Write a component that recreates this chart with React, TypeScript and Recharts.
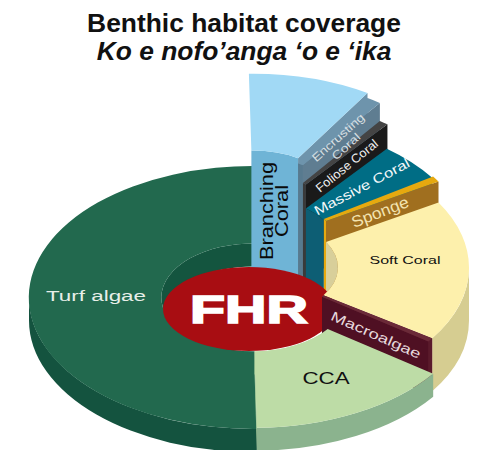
import * as React from "react";
import { Pie, PieChart } from "recharts";

const FONT = '"Liberation Sans", Arial, sans-serif';

// Percent of the disc, clockwise from Turf algae.
const HABITATS = ["Turf algae", "Branching Coral", "Encrusting Coral", "Foliose Coral", "Massive Coral", "Sponge", "Soft Coral", "Macroalgae", "CCA"];
const COVERAGE = [50, 9.2, 1.1, 0.7, 5, 0.75, 18, 0.5, 14.8];
const HUB = ["FHR"];

const data = HABITATS.map((name, i) => ({ name, value: COVERAGE[i] }));
const hubData = HUB.map((name) => ({ name, value: 1 }));

// Look of the fake 3D: k flattens the disc, DEPTH is the rim below the base plane.
const k = 0.587;
const DEPTH = 23;
const W = 484;
const H = 450;

type Look = { lift: number; rIn: number; rOut: number; top: string; end: string; outer: string; inner: string; bleed?: number };
const LOOK: Record<string, Look> = {
  // bleed: turf runs on under the branching wedge so no white seam shows
  "Turf algae": { lift: 0, rIn: 92, rOut: 224, top: "#22694E", end: "#22694E", outer: "#14533F", inner: "#14553F", bleed: 3 },
  "Branching Coral": { lift: 97, rIn: 85, rOut: 216, top: "#A1D9F5", end: "#6E94AC", outer: "#6FB4D6", inner: "#6FB4D6" },
  "Encrusting Coral": { lift: 92, rIn: 85, rOut: 216, top: "#6E94AC", end: "#5F7D91", outer: "#5F7D91", inner: "#587A8F" },
  "Foliose Coral": { lift: 74, rIn: 85, rOut: 216, top: "#444444", end: "#1A1A1A", outer: "#1A1A1A", inner: "#3A3A3A" },
  "Massive Coral": { lift: 50, rIn: 85, rOut: 215, top: "#006D85", end: "#0D5E74", outer: "#0D5E74", inner: "#0D5E74" },
  Sponge: { lift: 51, rIn: 85, rOut: 216, top: "#E6A90F", end: "#A06F1F", outer: "#A06F1F", inner: "#E6A90F" },
  "Soft Coral": { lift: 30, rIn: 85, rOut: 216, top: "#FDF0AC", end: "#5A1A2B", outer: "#D6CD91", inner: "#D8CF9A" },
  Macroalgae: { lift: 30, rIn: 85, rOut: 216, top: "#6B2A38", end: "#4F1023", outer: "#5A1A2B", inner: "#4F1023" },
  CCA: { lift: 0, rIn: 92, rOut: 222, top: "#BDDCA6", end: "#BDDCA6", outer: "#8BB38E", inner: "#BDDCA6" },
};
const FRONT = ["Soft Coral", "Macroalgae", "CCA"];

type Tag = { lines: string[]; x: number; y: number; rot: number; size: number; fill: string; widths: number[]; gap?: number };
const TAGS: Record<string, Tag> = {
  "Turf algae": { lines: ["Turf algae"], x: 96, y: 295, rot: 0, size: 15.5, fill: "#E8EFE9", widths: [100] },
  "Branching Coral": { lines: ["Branching", "Coral"], x: 274.5, y: 211, rot: -90, size: 18, fill: "#0A0A0A", widths: [98, 52], gap: 15 },
  "Encrusting Coral": { lines: ["Encrusting", "Coral"], x: 342, y: 142, rot: -42, size: 11.5, fill: "#D5DDE0", widths: [66, 34], gap: 12 },
  "Foliose Coral": { lines: ["Foliose Coral"], x: 347, y: 166, rot: -39, size: 12.5, fill: "#F0F0F0", widths: [76] },
  "Massive Coral": { lines: ["Massive Coral"], x: 362, y: 187, rot: -28, size: 13.5, fill: "#F4F8F9", widths: [106] },
  Sponge: { lines: ["Sponge"], x: 380, y: 212, rot: -21, size: 16, fill: "#F3E3B0", widths: [60] },
  "Soft Coral": { lines: ["Soft Coral"], x: 405, y: 260, rot: 0, size: 11.5, fill: "#111111", widths: [71] },
  Macroalgae: { lines: ["Macroalgae"], x: 376, y: 335, rot: 24, size: 13.5, fill: "#E6D8DC", widths: [97] },
  CCA: { lines: ["CCA"], x: 326, y: 378, rot: 0, size: 16, fill: "#111111", widths: [47] },
};

/** Recharts hands us polar angles; turn them into degrees clockwise from the top. */
function span(p: any) {
  let a0 = 90 - p.startAngle;
  let a1 = 90 - p.endAngle;
  if (a0 < -90) {
    a0 += 360;
    a1 += 360;
  }
  return [a0, a1 + (LOOK[p.name]?.bleed ?? 0)];
}

function pt(p: any, a: number, r: number, lift: number) {
  const rad = (a * Math.PI) / 180;
  return `${(p.cx + r * Math.sin(rad)).toFixed(2)} ${(p.cy - k * r * Math.cos(rad) - lift).toFixed(2)}`;
}

function arc(p: any, from: number, to: number, r: number, lift: number) {
  const big = Math.abs(to - from) > 180 ? 1 : 0;
  const sweep = to > from ? 1 : 0;
  return `A ${r} ${(k * r).toFixed(2)} 0 ${big} ${sweep} ${pt(p, to, r, lift)}`;
}

function band(p: any, a: number, b: number, r: number, lift: number) {
  return `M ${pt(p, a, r, lift)} ${arc(p, a, b, r, lift)} L ${pt(p, b, r, -DEPTH)} ${arc(p, b, a, r, -DEPTH)} Z`;
}

function Wedge({ p, look, rIn, innerWall }: { p: any; look: Look; rIn: number; innerWall: boolean }) {
  const [a0, a1] = span(p);
  const { lift, rOut } = look;
  const from = Math.max(a0, 90);
  const to = Math.min(a1, 270);
  return (
    <g>
      {innerWall && <path d={band(p, a0, a1, rIn, lift)} fill={look.inner} />}
      {a1 < 180 && (
        <path
          d={`M ${pt(p, a1, rIn, lift)} L ${pt(p, a1, rOut, lift)} L ${pt(p, a1, rOut, -DEPTH)} L ${pt(p, a1, rIn, -DEPTH)} Z`}
          fill={look.end}
        />
      )}
      {to > from && <path d={band(p, from, to, rOut, lift)} fill={look.outer} />}
      <path
        d={`M ${pt(p, a0, rIn, lift)} L ${pt(p, a0, rOut, lift)} ${arc(p, a0, a1, rOut, lift)} L ${pt(p, a1, rIn, lift)} ${arc(p, a1, a0, rIn, lift)} Z`}
        fill={look.top}
      />
    </g>
  );
}

function backShape(p: any) {
  const look = LOOK[p.name];
  if (FRONT.includes(p.name)) {
    // only what the red hub has to sit on top of
    const [a0, a1] = span(p);
    return (
      <g>
        <path d={band(p, a0, a1, look.rIn, look.lift)} fill={look.inner} />
      </g>
    );
  }
  return <Wedge p={p} look={look} rIn={look.rIn} innerWall />;
}

function frontShape(p: any) {
  if (!FRONT.includes(p.name)) return <g />;
  return <Wedge p={p} look={LOOK[p.name]} rIn={LOOK[p.name].rIn} innerWall={false} />;
}

function hubShape(p: any) {
  return (
    <g>
      <ellipse cx={p.cx - 4} cy={p.cy + 11.5} rx={86} ry={42} fill="#A80D12" />
      <text
        x={p.cx - 4}
        y={p.cy + 25.5}
        textAnchor="middle"
        fontFamily={FONT}
        fontWeight={700}
        fontSize={39}
        fill="#FFFFFF"
        stroke="#FFFFFF"
        strokeWidth={1.6}
        textLength={118}
        lengthAdjust="spacingAndGlyphs"
      >
        {p.name}
      </text>
    </g>
  );
}

function renderTag(p: any) {
  const tag = TAGS[p.name];
  const gap = tag.gap ?? 0;
  return (
    <g transform={`translate(${tag.x} ${tag.y}) rotate(${tag.rot})`}>
      {tag.lines.map((line, i) => (
        <text
          key={line}
          x={0}
          y={(i - (tag.lines.length - 1) / 2) * gap}
          textAnchor="middle"
          dominantBaseline="central"
          fontFamily={FONT}
          fontSize={tag.size}
          fill={tag.fill}
          textLength={tag.widths[i]}
          lengthAdjust="spacingAndGlyphs"
        >
          {line}
        </text>
      ))}
    </g>
  );
}

export default function App() {
  const pie = {
    data,
    dataKey: "value",
    nameKey: "name",
    cx: 253,
    cy: 297.5,
    innerRadius: 0,
    outerRadius: 224,
    startAngle: 271,
    endAngle: -89,
    stroke: "none",
    isAnimationActive: false,
  };
  return (
    <div style={{ position: "absolute", left: 0, top: 0, width: W, height: H, background: "#fff", overflow: "hidden" }}>
      <div
        style={{
          position: "absolute",
          left: 0,
          top: 9,
          width: W + 4,
          textAlign: "center",
          fontFamily: FONT,
          fontWeight: 700,
          fontSize: 26.4,
          lineHeight: "28px",
          color: "#111",
        }}
      >
        <div>Benthic habitat coverage</div>
        <div style={{ fontStyle: "italic" }}>Ko e nofo’anga ‘o e ‘ika</div>
      </div>
      <div style={{ position: "absolute", left: 0, top: 0 }}>
        <PieChart width={W} height={H} margin={{ top: 0, right: 0, bottom: 0, left: 0 }}>
          <Pie {...pie} shape={backShape} />
          <Pie {...pie} data={hubData} shape={hubShape} />
          <Pie {...pie} shape={frontShape} label={renderTag} labelLine={false} />
        </PieChart>
      </div>
    </div>
  );
}
